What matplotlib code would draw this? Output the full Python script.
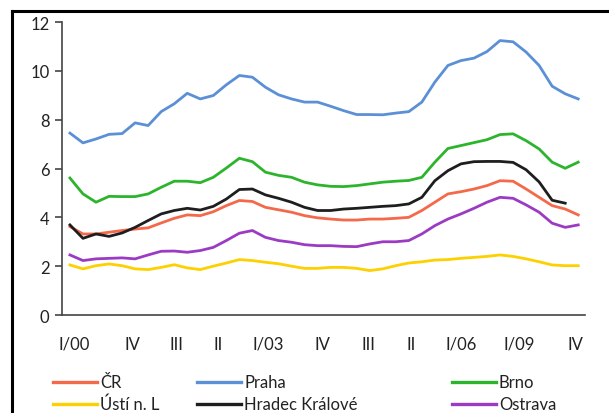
import matplotlib.pyplot as plt
from matplotlib.lines import Line2D
import numpy as np

plt.rcParams['font.family'] = ['Lato', 'DejaVu Sans']
plt.rcParams['text.color'] = '#222222'
plt.rcParams['xtick.color'] = '#222222'
plt.rcParams['ytick.color'] = '#222222'

# quarterly values, I/2000 .. IV/2009
cr = [3.62, 3.32, 3.32, 3.39, 3.46, 3.52, 3.57, 3.77, 3.96, 4.10,
      4.07, 4.23, 4.48, 4.69, 4.65, 4.41, 4.31, 4.21, 4.07, 3.98,
      3.93, 3.89, 3.89, 3.93, 3.93, 3.96, 4.00, 4.28, 4.62, 4.96,
      5.05, 5.16, 5.30, 5.50, 5.48, 5.16, 4.82, 4.48, 4.34, 4.10]
praha = [7.45, 7.05, 7.21, 7.40, 7.43, 7.87, 7.76, 8.33, 8.65, 9.08,
         8.85, 8.99, 9.43, 9.81, 9.74, 9.33, 9.02, 8.85, 8.72, 8.72,
         8.55, 8.37, 8.21, 8.21, 8.20, 8.27, 8.33, 8.72, 9.54, 10.22,
         10.42, 10.52, 10.79, 11.24, 11.19, 10.77, 10.22, 9.37, 9.06, 8.85]
brno = [5.61, 4.96, 4.62, 4.86, 4.85, 4.85, 4.96, 5.23, 5.48, 5.48,
        5.42, 5.64, 6.02, 6.42, 6.28, 5.85, 5.72, 5.64, 5.44, 5.33,
        5.27, 5.26, 5.30, 5.37, 5.44, 5.48, 5.51, 5.64, 6.26, 6.82,
        6.94, 7.06, 7.18, 7.39, 7.42, 7.14, 6.80, 6.26, 6.01, 6.26]
usti = [2.05, 1.89, 2.02, 2.09, 2.02, 1.89, 1.86, 1.95, 2.06, 1.93,
        1.86, 2.00, 2.13, 2.27, 2.23, 2.16, 2.10, 2.00, 1.91, 1.91,
        1.95, 1.95, 1.91, 1.82, 1.89, 2.02, 2.13, 2.18, 2.25, 2.27,
        2.32, 2.36, 2.40, 2.46, 2.40, 2.30, 2.18, 2.05, 2.02, 2.02]
hradec = [3.69, 3.14, 3.32, 3.22, 3.36, 3.59, 3.87, 4.14, 4.28, 4.37,
          4.30, 4.45, 4.75, 5.14, 5.16, 4.92, 4.78, 4.62, 4.41, 4.28,
          4.28, 4.34, 4.37, 4.41, 4.45, 4.48, 4.55, 4.82, 5.50, 5.91,
          6.19, 6.28, 6.29, 6.29, 6.25, 5.95, 5.45, 4.70, 4.58, np.nan]
ostrava = [2.46, 2.23, 2.30, 2.32, 2.34, 2.30, 2.46, 2.61, 2.62, 2.57,
           2.64, 2.77, 3.05, 3.35, 3.46, 3.18, 3.05, 2.98, 2.88, 2.84,
           2.84, 2.81, 2.80, 2.91, 3.00, 3.00, 3.05, 3.32, 3.66, 3.93,
           4.14, 4.37, 4.62, 4.82, 4.78, 4.51, 4.21, 3.76, 3.59, 3.69]

tick_pos = [0.3, 4.8, 8.2, 11.4, 15.2, 19.4, 22.9, 26.2, 30.0, 34.5, 38.8]
tick_labels = ['I/00', 'IV', 'III', 'II', 'I/03', 'IV', 'III', 'II', 'I/06', 'I/09', 'IV']

series = [
    ('ČR', cr, '#f4694a'),
    ('Praha', praha, '#5b90d6'),
    ('Brno', brno, '#2cb52c'),
    ('Ústí n. L', usti, '#fdd000'),
    ('Hradec Králové', hradec, '#1e1e1e'),
    ('Ostrava', ostrava, '#9b3bc4'),
]

fig = plt.figure(figsize=(6.09, 4.14), dpi=100)
ax = fig.add_axes([0.1018, 0.2367, 0.8588, 0.7077])

x = np.arange(len(cr))
for name, vals, col in series:
    ax.plot(x, vals, color=col, lw=2.0)

ax.set_xlim(-0.61, 39.52)
ax.set_ylim(0, 12)
ax.set_yticks([0, 2, 4, 6, 8, 10, 12])
ax.set_xticks(tick_pos)
ax.set_xticklabels(tick_labels)
for s in ['top', 'right']:
    ax.spines[s].set_visible(False)
for s in ['left', 'bottom']:
    ax.spines[s].set_color('#444444')
    ax.spines[s].set_linewidth(1.2)
ax.tick_params(axis='y', length=5, width=1.2, color='#444444', labelsize=12, pad=4)
ax.tick_params(axis='x', length=0, labelsize=12, pad=15)

# outer frame (left and top edges)
fig.add_artist(Line2D([0.0197, 0.0197], [0, 0.971], color='black', lw=2.2))
fig.add_artist(Line2D([0.0197, 1.0], [0.971, 0.971], color='black', lw=2.2))

# legend drawn by hand, three columns
cols_x = [53, 197, 452]
rows_y = [383, 405]
order = [[0, 3], [1, 4], [2, 5]]
for cx, idxs in zip(cols_x, order):
    for ry, i in zip(rows_y, idxs):
        name, _, col = series[i]
        yf = 1 - ry / 414
        fig.add_artist(Line2D([cx / 609, (cx + 44) / 609], [yf, yf], color=col, lw=2.4))
        fig.text((cx + 47) / 609, yf, name, fontsize=12, va='center', ha='left')

fig.savefig('out.png', dpi=100)
